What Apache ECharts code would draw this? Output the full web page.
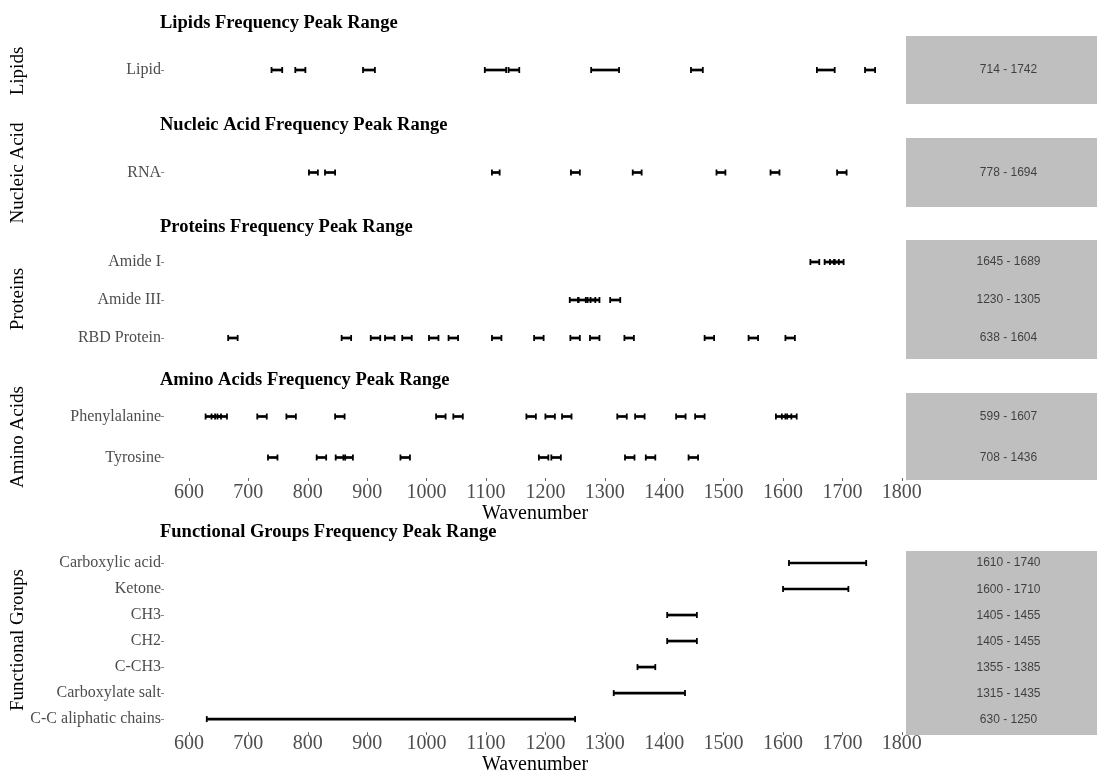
<!DOCTYPE html>
<html>
<head>
<meta charset="utf-8">
<script src="https://cdn.jsdelivr.net/npm/echarts@6/dist/echarts.min.js"></script>
<style>html,body{margin:0;padding:0;background:#fff;}#chart{width:1097px;height:776px;}</style>
</head>
<body>
<div id="chart"></div>
<script>
// ---------- data (against its wavenumber axis) ----------
const tickValues = [600, 700, 800, 900, 1000, 1100, 1200, 1300, 1400, 1500, 1600, 1700, 1800];

const lipidCats = ['Lipid'];
const lipidPeaks = [[[739,757],[779,796],[893,913],[1098,1134],[1138,1156],[1277,1324],[1445,1465],[1657,1687],[1738,1755]]];
const lipidRanges = ['714 - 1742'];

const nucleicCats = ['RNA'];
const nucleicPeaks = [[[802,817],[829,846],[1110,1123],[1243,1258],[1347,1362],[1488,1503],[1579,1594],[1691,1707]]];
const nucleicRanges = ['778 - 1694'];

const proteinCats = ['Amide I', 'Amide III', 'RBD Protein'];
const amideIPeaks = [[1646,1661],[1670,1686],[1679,1694],[1687,1702]];
const amideIIIPeaks = [[1241,1256],[1255,1271],[1268,1284],[1276,1291],[1309,1326]];
const rbdPeaks = [[666,682],[857,873],[906,922],[930,946],[959,975],[1004,1020],[1037,1053],[1110,1126],[1181,1197],[1242,1258],[1275,1291],[1333,1349],[1468,1484],[1542,1558],[1604,1620]];
const proteinRanges = ['1645 - 1689', '1230 - 1305', '638 - 1604'];

const aminoCats = ['Phenylalanine', 'Tyrosine'];
const phePeaks = [[628,644],[638,654],[648,664],[715,731],[764,780],[846,862],[1016,1032],[1045,1061],[1168,1184],[1200,1216],[1228,1244],[1321,1337],[1351,1367],[1420,1436],[1452,1468],[1588,1604],[1598,1614],[1607,1623]];
const tyrPeaks = [[733,749],[815,831],[847,863],[860,876],[956,972],[1189,1205],[1210,1226],[1334,1350],[1369,1385],[1441,1457]];
const aminoRanges = ['599 - 1607', '708 - 1436'];

const groupCats = ['Carboxylic acid', 'Ketone', 'CH3', 'CH2', 'C-CH3', 'Carboxylate salt', 'C-C aliphatic chains'];
const groupStart = [1610, 1600, 1405, 1405, 1355, 1315, 630];
const groupEnd   = [1740, 1710, 1455, 1455, 1385, 1435, 1250];
const groupRanges = ['1610 - 1740', '1600 - 1710', '1405 - 1455', '1405 - 1455', '1355 - 1385', '1315 - 1435', '630 - 1250'];

const panelTitles = ['Lipids Frequency Peak Range', 'Nucleic Acid Frequency Peak Range', 'Proteins Frequency Peak Range', 'Amino Acids Frequency Peak Range', 'Functional Groups Frequency Peak Range'];
const stripLabels = ['Lipids', 'Nucleic Acid', 'Proteins', 'Amino Acids', 'Functional Groups'];

// ---------- build ----------
function rows(list) {
  const out = [];
  list.forEach((peaks, ci) => peaks.forEach(p => out.push([p[0], p[1], ci])));
  return out;
}
const groupRows = groupCats.map((c, i) => [groupStart[i], groupEnd[i], i]);

// layout: data-grid top/height and grey-box top/height
const panels = [
  {cats: lipidCats, data: rows(lipidPeaks), ranges: lipidRanges, top: 36, height: 68, boxTop: 36, boxH: 68},
  {cats: nucleicCats, data: rows(nucleicPeaks), ranges: nucleicRanges, top: 138, height: 69, boxTop: 138, boxH: 69},
  {cats: proteinCats, data: rows([amideIPeaks, amideIIIPeaks, rbdPeaks]), ranges: proteinRanges, top: 243, height: 114, boxTop: 240, boxH: 119},
  {cats: aminoCats, data: rows([phePeaks, tyrPeaks]), ranges: aminoRanges, top: 396, height: 82, boxTop: 393, boxH: 87, showX: true, labelMargin: 5, nameGap: 24},
  {cats: groupCats, data: groupRows, ranges: groupRanges, top: 550, height: 183, boxTop: 551, boxH: 184, showX: true, labelMargin: 2, nameGap: 22}
];
const titleTops = [14, 116, 218, 371, 523];
const stripCenters = [71, 173, 299, 437, 640];

const SERIF = "'Liberation Serif', 'DejaVu Serif', serif";
const SANS = "'Liberation Sans', Arial, sans-serif";
const X_MIN = 558, X_MAX = 1807;

function renderBar(params, api) {
  const y = api.value(2);
  const a = api.coord([api.value(0), y]);
  const b = api.coord([api.value(1), y]);
  const h = 3;
  return {
    type: 'group',
    children: [
      {type: 'line', shape: {x1: a[0], y1: a[1], x2: b[0], y2: b[1]}, style: {stroke: '#000', lineWidth: 2.7}},
      {type: 'line', shape: {x1: a[0], y1: a[1] - h, x2: a[0], y2: a[1] + h}, style: {stroke: '#000', lineWidth: 1.8}},
      {type: 'line', shape: {x1: b[0], y1: b[1] - h, x2: b[0], y2: b[1] + h}, style: {stroke: '#000', lineWidth: 1.8}}
    ]
  };
}

const grid = [], xAxis = [], yAxis = [], series = [];
const N = panels.length;
// 1) data grids
panels.forEach((p, i) => {
  grid.push({left: 164, width: 742, top: p.top, height: p.height, containLabel: false});
  xAxis.push({
    type: 'value', gridIndex: i, min: X_MIN, max: X_MAX, show: !!p.showX,
    axisLine: {show: false}, splitLine: {show: false},
    axisTick: {show: true, length: 3, lineStyle: {color: '#666'}, customValues: tickValues},
    axisLabel: {fontFamily: SERIF, fontSize: 20, color: '#4d4d4d', margin: p.labelMargin || 4,
      customValues: tickValues, formatter: v => String(v)},
    name: 'Wavenumber', nameLocation: 'middle', nameGap: p.nameGap || 22,
    nameTextStyle: {fontFamily: SERIF, fontSize: 20, color: '#000'}
  });
  yAxis.push({
    type: 'category', gridIndex: i, data: p.cats, inverse: true,
    axisLine: {show: false}, splitLine: {show: false},
    axisTick: {show: true, length: 3, alignWithLabel: true, lineStyle: {color: '#888'}},
    axisLabel: {fontFamily: SERIF, fontSize: 16, color: '#4d4d4d', margin: 3}
  });
  series.push({
    type: 'custom', xAxisIndex: i, yAxisIndex: i, renderItem: renderBar,
    encode: {x: [0, 1], y: 2}, data: p.data, silent: true, clip: false
  });
});
// 2) grey boxes (background only)
panels.forEach((p, i) => {
  const gi = N + i;
  grid.push({left: 906, right: 0, top: p.boxTop, height: p.boxH, show: true, backgroundColor: '#bfbfbf', borderWidth: 0, z: 0});
  xAxis.push({type: 'value', gridIndex: gi, min: 0, max: 1, show: false});
  yAxis.push({type: 'value', gridIndex: gi, min: 0, max: 1, show: false});
});
// 3) range texts, aligned with the data rows
panels.forEach((p, i) => {
  const gi = 2 * N + i;
  grid.push({left: 906, right: 0, top: p.top, height: p.height, show: false});
  xAxis.push({type: 'value', gridIndex: gi, min: 0, max: 1, show: false});
  yAxis.push({type: 'category', gridIndex: gi, data: p.cats, inverse: true, show: false});
  series.push({
    type: 'scatter', xAxisIndex: gi, yAxisIndex: gi, symbolSize: 0, silent: true, z: 5,
    data: p.cats.map((c, k) => [0.5, k]),
    label: {show: true, position: 'inside', offset: [7, 0], fontFamily: SANS, fontSize: 12, color: '#1e1e1e',
      formatter: (d) => p.ranges[d.dataIndex]}
  });
});

const title = panelTitles.map((t, i) => ({
  text: t, left: 160, top: titleTops[i], padding: 0,
  textStyle: {fontFamily: SERIF, fontSize: 18.5, fontWeight: 'bold', color: '#000'}
}));

const graphic = stripLabels.map((s, i) => ({
  type: 'text', x: 18, y: stripCenters[i], rotation: Math.PI / 2,
  style: {text: s, fontFamily: SERIF, fontSize: 19, fill: '#000', align: 'center', verticalAlign: 'middle'}
}));

const chart = echarts.init(document.getElementById('chart'), null, {renderer: 'canvas'});
chart.setOption({
  backgroundColor: '#ffffff',
  animation: false,
  title, grid, xAxis, yAxis, series, graphic
});
</script>
</body>
</html>
